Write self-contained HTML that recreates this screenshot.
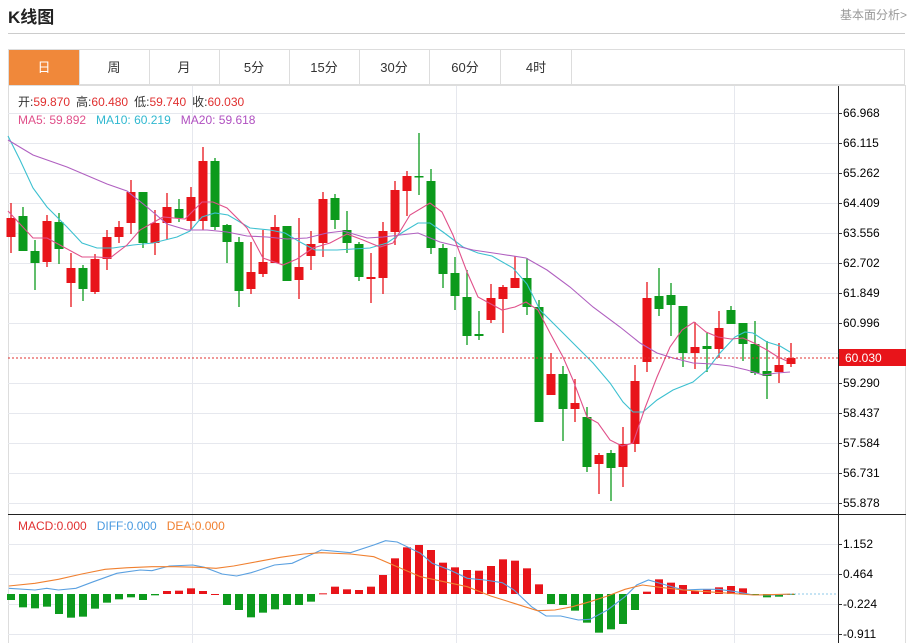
<!DOCTYPE html>
<html><head><meta charset="utf-8">
<style>
body{margin:0;background:#fff;width:911px;height:643px;overflow:hidden;font-family:"Liberation Sans","Noto Sans CJK SC",sans-serif;}
#t{position:absolute;left:8px;top:3px;font-size:17px;font-weight:bold;color:#222;}
#r{position:absolute;right:4px;top:6px;font-size:12px;color:#999;}
#hl{position:absolute;left:8px;top:33px;width:897px;height:1px;background:#ccc;}
#tabs{position:absolute;left:8px;top:49px;width:897px;height:36px;border:1px solid #ddd;box-sizing:border-box;}
.tb{position:absolute;top:0;height:35px;line-height:35px;width:70px;text-align:center;font-size:13px;color:#333;border-right:1px solid #ddd;}
svg{position:absolute;left:0;top:0;}
</style></head><body>
<div id="t">K线图</div><div id="r">基本面分析&gt;</div><div id="hl"></div>
<div id="tabs">
<div class="tb" style="left:0;background:#f0883a;color:#fff;">日</div>
<div class="tb" style="left:70px">周</div>
<div class="tb" style="left:140px">月</div>
<div class="tb" style="left:210px">5分</div>
<div class="tb" style="left:280px">15分</div>
<div class="tb" style="left:350px">30分</div>
<div class="tb" style="left:421px">60分</div>
<div class="tb" style="left:492px">4时</div>
</div>
<svg id="s" width="911" height="643" xmlns="http://www.w3.org/2000/svg" font-family="Liberation Sans, Noto Sans CJK SC, sans-serif" font-size="12">
<rect x="8.5" y="85.5" width="897" height="560" fill="none" stroke="#ddd"/>
<g id="grid" stroke="#e6e8ee" stroke-width="1"></g>
<line x1="8" y1="514.5" x2="906" y2="514.5" stroke="#222"/>
<line x1="838.5" y1="86" x2="838.5" y2="643" stroke="#222"/>
<g id="ax" fill="#333"></g>
<g id="c"></g>
<line x1="8" y1="358" x2="838" y2="358" stroke="#e03030" stroke-dasharray="2,2"/>
<rect x="839" y="349" width="67" height="17" fill="#e8141a"/>
<text x="845" y="362" fill="#fff">60.030</text>
<line x1="790" y1="594" x2="838" y2="594" stroke="#8cc8e8" stroke-dasharray="2,2"/>
<text x="18" y="106"><tspan fill="#333">开:</tspan><tspan fill="#e03030">59.870</tspan><tspan fill="#333" dx="6">高:</tspan><tspan fill="#e03030">60.480</tspan><tspan fill="#333" dx="6">低:</tspan><tspan fill="#e03030">59.740</tspan><tspan fill="#333" dx="6">收:</tspan><tspan fill="#e03030">60.030</tspan></text>
<text x="18" y="124"><tspan fill="#e0508a">MA5: 59.892</tspan><tspan fill="#30b8d0" dx="10">MA10: 60.219</tspan><tspan fill="#b050c0" dx="10">MA20: 59.618</tspan></text>
<text x="18" y="530"><tspan fill="#e03030">MACD:0.000</tspan><tspan fill="#4a9ae0" dx="10">DIFF:0.000</tspan><tspan fill="#f08030" dx="10">DEA:0.000</tspan></text>
<text x="843" y="117">66.968</text><text x="843" y="147">66.115</text><text x="843" y="177">65.262</text><text x="843" y="207">64.409</text><text x="843" y="237">63.556</text><text x="843" y="267">62.702</text><text x="843" y="297">61.849</text><text x="843" y="327">60.996</text><text x="843" y="387">59.290</text><text x="843" y="417">58.437</text><text x="843" y="447">57.584</text><text x="843" y="477">56.731</text><text x="843" y="507">55.878</text>
<text x="843" y="548">1.152</text><text x="843" y="578">0.464</text><text x="843" y="608">-0.224</text><text x="843" y="638">-0.911</text>
</svg>
<script>
var NS="http://www.w3.org/2000/svg";
function el(p,n,a){var e=document.createElementNS(NS,n);for(var k in a)e.setAttribute(k,a[k]);p.appendChild(e);return e;}
var g=document.getElementById('grid'),ax=document.getElementById('ax'),c=document.getElementById('c');
[113,143,173,203,233,263,293,323,353,383,413,443,473,503,544,574,604,634].forEach(function(y){el(g,'line',{x1:8,x2:838,y1:y+.5,y2:y+.5});el(ax,'line',{x1:838,x2:842,y1:y+.5,y2:y+.5,stroke:'#333'});});
[192,456,734].forEach(function(x){el(g,'line',{x1:x+.5,x2:x+.5,y1:86,y2:643});});
var K=[[218,237,203,253,1],[216,251,207,251,0],[251,263,240,290,0],[221,262,215,267,1],[222,249,213,264,0],[268,283,253,307,1],[268,289,265,301,0],[259,292,254,294,1],[237,259,230,270,1],[227,237,221,243,1],[192,223,180,234,1],[192,243,192,248,0],[223,243,210,255,1],[207,223,193,240,1],[209,218,199,222,0],[197,221,187,230,1],[161,221,147,230,1],[161,227,158,230,0],[225,242,224,263,0],[242,291,237,307,0],[272,289,242,294,1],[262,274,230,277,1],[227,263,215,263,1],[226,281,226,281,0],[267,280,218,299,1],[244,256,231,270,1],[199,243,192,257,1],[198,220,194,229,0],[230,243,211,253,0],[244,277,242,281,0],[277,279,253,303,1],[231,278,222,294,1],[190,232,181,245,1],[176,191,171,216,1],[176,177,133,195,0],[181,248,169,254,0],[248,274,244,288,0],[273,296,257,310,0],[297,336,270,345,0],[334,336,311,340,0],[298,320,284,323,1],[287,299,285,333,1],[278,288,256,288,1],[278,307,258,315,0],[307,422,300,422,0],[374,395,353,395,1],[374,409,366,441,0],[403,409,379,422,1],[417,467,407,472,0],[455,464,453,494,1],[453,468,450,501,0],[444,467,427,487,1],[381,444,365,452,1],[298,362,282,372,1],[296,309,268,316,0],[295,305,283,336,0],[306,353,306,367,0],[347,353,322,369,1],[346,349,333,372,0],[328,349,311,358,1],[310,324,306,324,0],[323,344,323,361,0],[344,373,321,375,0],[371,376,341,399,0],[365,372,343,383,1],[358,364,343,367,1]];
K.forEach(function(k,i){var x=11+12*i,col=k[4]?'#e8141a':'#0c9a1c';
el(c,'line',{x1:x,x2:x,y1:k[2],y2:k[3],stroke:col,'stroke-width':1.3});
el(c,'rect',{x:x-4.5,y:k[0],width:9,height:Math.max(1.5,k[1]-k[0]),fill:col});});
function pl(pts,col,sx,oy){var s=pts.map(function(p){return (p[0]*(sx||1)).toFixed(1)+','+(oy!==undefined?oy+p[1]/3:p[1]).toFixed(1);}).join(' ');el(c,'polyline',{points:s,fill:'none',stroke:col,'stroke-width':1.1});}
pl([[8,136],[20,160],[33,188],[47,207],[67,227],[82,243],[97,248],[113,248],[133,245],[153,243],[177,237],[190,231],[202,217],[215,213],[228,215],[250,228],[270,230],[285,233],[300,242],[315,250],[337,250],[353,249],[370,248],[387,243],[403,232],[418,223],[430,223],[443,232],[463,247],[478,253],[492,256],[513,268],[527,284],[540,310],[560,330],[577,347],[593,363],[610,383],[623,402],[633,412],[643,412],[657,400],[673,390],[693,382],[707,370],[720,353],[735,337],[745,332],[753,333],[767,342],[780,346],[790,352]],'#3cc0d0');
pl([[8,140],[33,155],[67,167],[107,184],[127,191],[147,207],[167,224],[187,230],[207,230],[227,232],[247,236],[267,237],[287,239],[307,238],[327,233],[343,231],[367,238],[383,237],[400,235],[418,233],[440,242],[473,250],[500,254],[526,258],[547,270],[570,287],[593,307],[620,327],[640,343],[657,353],[673,358],[693,363],[713,364],[730,366],[747,370],[763,375],[777,373],[790,372]],'#b060c0');
pl([[8,211],[33,238],[47,238],[82,257],[97,257],[110,258],[127,245],[140,230],[163,217],[185,219],[202,202],[213,202],[227,208],[247,228],[263,258],[283,265],[297,259],[313,248],[330,243],[347,234],[363,240],[380,247],[393,243],[410,215],[430,203],[442,212],[453,235],[467,272],[478,297],[502,310],[515,307],[526,302],[538,310],[550,333],[563,357],[573,380],[587,417],[598,423],[610,440],[622,446],[633,443],[645,408],[657,377],[670,347],[682,330],[694,322],[706,332],[718,337],[731,339],[743,338],[754,343],[767,350],[778,357],[787,361]],'#e0508a');
var M=[270,292,295,290,312,323,320,296,278,268,262,270,256,243,242,235,243,252,285,300,322,308,298,285,285,275,250,230,238,240,230,195,145,112,105,120,158,172,180,182,168,148,152,175,223,282,285,302,338,368,358,342,300,245,208,218,225,243,238,232,228,235,255,262,260,255];
M.forEach(function(z,i){var x=11+12*i,y=510+z/3,z0=594,col=z<253?'#e8141a':'#0c9a1c';
el(c,'rect',{x:x-4,y:Math.min(y,z0),width:8,height:Math.max(1,Math.abs(y-z0)),fill:col});});
var s=1/1.712;
pl([[15,235],[60,240],[80,235],[100,240],[130,235],[160,215],[200,190],[240,180],[260,182],[290,168],[330,165],[350,172],[380,192],[405,198],[430,188],[470,165],[500,160],[550,120],[600,128],[640,105],[660,92],[680,96],[720,130],[740,160],[770,180],[800,205],[830,210],[860,218],[880,240],[910,290],[935,318],[960,318],[990,330],[1010,328],[1040,300],[1070,260],[1090,225],[1110,210],[1140,225],[1170,240],[1200,238],[1230,238],[1260,245],[1290,255],[1320,255],[1360,252]],'#5aa0e0',s,510);
pl([[15,228],[60,220],[100,208],[140,192],[180,178],[220,173],[260,170],[300,170],[340,172],[370,175],[400,168],[440,155],[480,142],[520,132],[550,128],[600,132],[640,140],[680,170],[720,200],[760,215],[800,230],[840,258],[880,280],[920,302],[950,300],[980,290],[1010,275],[1040,258],[1070,238],[1100,225],[1130,232],[1170,240],[1210,245],[1250,250],[1290,255],[1360,252]],'#f08030',s,510);
</script>
</body></html>
